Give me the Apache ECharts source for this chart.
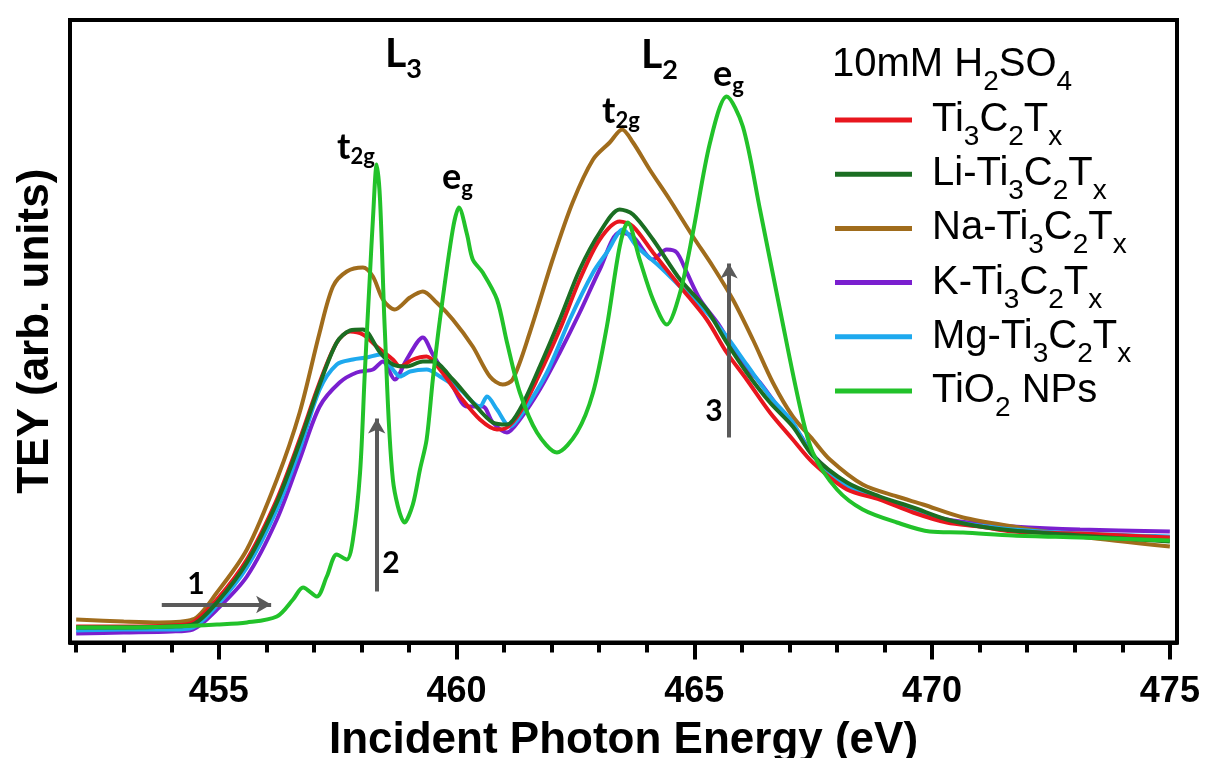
<!DOCTYPE html>
<html><head><meta charset="utf-8">
<script src="https://cdn.jsdelivr.net/npm/echarts@6/dist/echarts.min.js"></script>
<style>html,body{margin:0;padding:0;background:#fff}#c{width:1208px;height:758px}</style>
</head><body><div id="c"></div>
<script>
// ---- data: [photon energy (eV), TEY (arb. units)] ----
const ti3c2tx = [[452.0,16],[453.0,16],[454.0,17],[454.45,20],[454.96,43],[455.59,83],[456.22,143],[456.70,203],[457.12,260],[457.48,300],[457.76,311],[458.03,308],[458.32,296],[458.66,283],[458.81,276],[459.08,283],[459.37,286],[459.65,273],[460.07,246],[460.49,223],[460.85,213],[461.06,215],[461.33,230],[461.69,263],[462.17,313],[462.59,363],[463.01,403],[463.43,421],[463.71,416],[464.13,390],[464.70,356],[465.26,323],[465.68,290],[466.10,263],[466.59,230],[467.07,203],[467.49,180],[468.21,153],[468.90,143],[469.60,130],[470.31,120],[471.00,116],[471.70,111],[473.11,109],[475.0,105]];
const liTi3c2tx = [[452.0,15],[453.0,15],[454.0,16],[454.45,18],[454.96,40],[455.59,80],[456.22,140],[456.70,200],[457.12,258],[457.48,300],[457.76,312],[458.03,313],[458.39,290],[458.66,278],[458.95,276],[459.29,281],[459.50,281],[459.92,263],[460.34,240],[460.76,220],[461.06,218],[461.33,233],[461.75,276],[462.17,323],[462.59,373],[463.01,410],[463.43,433],[463.71,428],[464.13,403],[464.70,363],[465.26,333],[465.68,300],[466.10,270],[466.59,240],[467.07,216],[467.49,187],[468.21,160],[468.90,146],[469.60,135],[470.31,123],[471.00,116],[471.70,112],[473.11,107],[475.0,101]];
const naTi3c2tx = [[452.0,23],[453.0,21],[453.76,20],[454.45,23],[454.96,50],[455.59,93],[456.22,163],[456.70,230],[457.12,310],[457.40,356],[457.69,371],[458.03,375],[458.24,366],[458.45,343],[458.70,333],[459.02,345],[459.29,351],[459.58,340],[459.92,323],[460.34,296],[460.70,266],[460.97,258],[461.18,263],[461.54,310],[462.02,383],[462.44,440],[462.87,483],[463.22,500],[463.48,513],[463.71,500],[464.06,473],[464.48,443],[464.97,406],[465.39,376],[465.81,343],[466.23,303],[466.65,260],[467.07,226],[467.49,203],[467.85,183],[468.54,158],[469.26,146],[469.81,138],[470.65,125],[471.70,116],[473.11,106],[475.0,96]];
const kTi3c2tx = [[452.0,9],[453.0,10],[454.0,11],[454.45,13],[454.96,33],[455.59,66],[456.22,123],[456.70,183],[457.12,236],[457.54,260],[457.90,270],[458.24,273],[458.45,281],[458.70,263],[458.95,283],[459.29,305],[459.50,288],[459.92,256],[460.22,236],[460.55,236],[460.76,220],[461.06,210],[461.33,223],[461.75,253],[462.17,290],[462.59,330],[463.01,373],[463.43,410],[463.71,406],[464.13,383],[464.42,393],[464.63,390],[464.84,370],[465.12,343],[465.54,316],[465.96,283],[466.38,260],[466.80,233],[467.22,208],[467.49,188],[468.21,157],[468.90,145],[469.60,133],[470.31,123],[471.00,119],[471.70,116],[473.11,113],[475.0,111]];
const mgTi3c2tx = [[452.0,12],[453.0,13],[454.0,13],[454.45,15],[454.96,37],[455.59,75],[456.22,133],[456.70,193],[457.12,253],[457.48,278],[457.82,283],[458.11,285],[458.39,288],[458.66,273],[458.81,266],[459.02,271],[459.37,273],[459.65,266],[460.07,253],[460.49,236],[460.64,246],[460.85,233],[461.12,216],[461.39,230],[461.90,270],[462.38,323],[462.87,370],[463.16,390],[463.50,413],[463.79,396],[464.27,376],[464.70,356],[465.26,330],[465.68,306],[466.10,278],[466.59,246],[467.07,220],[467.49,187],[468.21,157],[468.90,144],[469.60,132],[470.31,122],[471.00,117],[471.70,113],[473.11,109],[475.0,106]];
const tio2Nps = [[452.0,15],[453.0,15],[454.0,16],[454.96,18],[455.59,20],[456.22,26],[456.56,43],[456.77,55],[457.06,46],[457.27,66],[457.48,88],[457.69,83],[457.82,103],[457.97,170],[458.07,270],[458.18,370],[458.24,423],[458.32,478],[458.39,443],[458.49,313],[458.66,163],[458.91,120],[459.08,138],[459.23,173],[459.37,203],[459.50,263],[459.65,323],[459.92,413],[460.05,435],[460.22,408],[460.34,383],[460.55,370],[460.85,343],[461.06,300],[461.33,250],[461.69,210],[462.11,190],[462.53,210],[462.87,250],[463.16,316],[463.43,396],[463.60,420],[463.85,383],[464.13,343],[464.42,318],[464.70,350],[464.97,410],[465.33,500],[465.68,546],[466.02,516],[466.38,433],[466.80,333],[467.22,236],[467.49,190],[468.00,153],[468.54,133],[469.26,120],[469.95,111],[470.65,110],[471.70,107],[473.11,105],[475.0,102]];

const seriesNames = ['Ti3C2Tx','Li-Ti3C2Tx','Na-Ti3C2Tx','K-Ti3C2Tx','Mg-Ti3C2Tx','TiO2 NPs'];
const legendLabels = ['{g| }{m|Ti}{s|3}{m|C}{s|2}{m|T}{s|x}','{g| }{m|Li-Ti}{s|3}{m|C}{s|2}{m|T}{s|x}','{g| }{m|Na-Ti}{s|3}{m|C}{s|2}{m|T}{s|x}','{g| }{m|K-Ti}{s|3}{m|C}{s|2}{m|T}{s|x}','{g| }{m|Mg-Ti}{s|3}{m|C}{s|2}{m|T}{s|x}','{g| }{m|TiO}{s|2}{m| NPs}'];
const majorTicks = [455,460,465,470,475];
const minorTicks = [452,453,454,455,456,457,458,459,460,461,462,463,464,465,466,467,468,469,470,471,472,473,474,475];
const arrowLines = [[[453.80,38],[456.10,38]],[[458.32,51],[458.32,224]],[[465.73,205],[465.73,379]]];

// ---- styling ----
const colors = ['#e8161e','#1b6e22','#a06c1c','#7a1fcf','#1ea9ee','#22c22a'];
const zOrder = [4,5,3,2,3,6];
const dataList = [ti3c2tx, liTi3c2tx, naTi3c2tx, kTi3c2tx, mgTi3c2tx, tio2Nps];

function richSub(font, weight, f, s, d, color){
  const P = 0.6*(f-s) + 2*d;
  return {
    g: {width: 15, fontSize: f, fontFamily: font},
    m: {fontFamily: font, fontWeight: weight, fontSize: f, lineHeight: f, verticalAlign: 'middle', color: color},
    s: {fontFamily: font, fontWeight: weight, fontSize: s, lineHeight: s, verticalAlign: 'top', padding: [P,0,0,0], color: color}
  };
}
const legendRich = richSub('Liberation Sans','normal',40,28,8,'#000');

const chart = echarts.init(document.getElementById('c'), null, {renderer:'canvas'});

const series = dataList.map((d,i)=>({
  name: seriesNames[i], type:'line', data:d, symbol:'none', showSymbol:false,
  smooth:0.3, lineStyle:{color:colors[i], width:4}, itemStyle:{color:colors[i]},
  z: zOrder[i], emphasis:{disabled:true}, xAxisIndex:0, yAxisIndex:0
}));
series.push({
  name:'arrows', type:'line', data:[], xAxisIndex:0, yAxisIndex:0, z:10, silent:true,
  markLine:{
    silent:true, symbol:['none','arrow'], symbolSize:[13,15], animation:false,
    label:{show:false}, emphasis:{disabled:true},
    lineStyle:{color:'#5a5a5a', width:4, type:'solid'},
    data: arrowLines.map(a=>[{coord:a[0]},{coord:a[1]}])
  }
});

function ann(text, x, baseline, f, s, d){
  return {type:'text', x:x, y:baseline-0.3*f, z:20, silent:true,
    style:{text:text, x:0, y:0, align:'left', verticalAlign:'middle', textAlign:'left', textVerticalAlign:'middle',
      rich: richSub('Lato','bold',f,s,d,'#000')}};
}
function num(text, cx, cy){
  return {type:'text', x:cx, y:cy, z:20, silent:true,
    style:{text:text, x:0, y:0, align:'center', verticalAlign:'middle', textAlign:'center', textVerticalAlign:'middle',
      fontFamily:'Lato', fontWeight:'bold', fontSize:30, fill:'#000', font:'bold 30px Lato'}};
}

const option = {
  animation:false,
  backgroundColor:'#fff',
  grid:{left:70, right:31, top:20, bottom:115.5, show:true, borderColor:'#000', borderWidth:4, backgroundColor:'transparent',
        containLabel:false, outerBoundsMode:'none'},
  legend:{
    data: seriesNames, orient:'vertical', left:835, top:100, padding:0, itemGap:3,
    icon:'rect', itemWidth:77, itemHeight:5, selectedMode:false,
    formatter: name => legendLabels[seriesNames.indexOf(name)],
    textStyle:{color:'#000', fontFamily:'Liberation Sans', fontSize:40, rich: legendRich}
  },
  xAxis:[{
    type:'value', min:451.87, max:475.15, position:'bottom', gridIndex:0,
    axisLine:{show:true, lineStyle:{color:'#000', width:4}},
    axisTick:{show:true, customValues:majorTicks, length:17, inside:false, lineStyle:{color:'#000', width:4}},
    axisLabel:{show:true, customValues:majorTicks, margin:32, color:'#000', fontFamily:'Liberation Sans', fontWeight:'bold', fontSize:36},
    splitLine:{show:false},
    name:'Incident Photon Energy (eV)', nameLocation:'middle', nameGap:76,
    nameTextStyle:{color:'#000', fontFamily:'Liberation Sans', fontWeight:'bold', fontSize:44}
  },{
    type:'value', min:451.87, max:475.15, position:'bottom', gridIndex:0,
    axisLine:{show:false},
    axisTick:{show:true, customValues:minorTicks, length:10, lineStyle:{color:'#000', width:4}},
    axisLabel:{show:false}, splitLine:{show:false}
  }],
  yAxis:{
    type:'value', min:0, max:622.5,
    axisLine:{show:true, lineStyle:{color:'#000', width:4}},
    axisTick:{show:false}, axisLabel:{show:false}, splitLine:{show:false},
    name:'TEY (arb. units)', nameLocation:'middle', nameGap:12,
    nameTextStyle:{color:'#000', fontFamily:'Liberation Sans', fontWeight:'bold', fontSize:44}
  },
  graphic:[
    {type:'text', x:832, y:65, z:20, silent:true,
      style:{text:'{m|10mM H}{s|2}{m|SO}{s|4}', x:0, y:0, align:'left', verticalAlign:'middle', textAlign:'left', textVerticalAlign:'middle',
        rich: richSub('Liberation Sans','normal',40,28,8,'#000')}},
    ann('{m|L}{s|3}', 385, 66, 41, 27, 7),
    ann('{m|L}{s|2}', 641, 67, 41, 27, 7),
    ann('{m|t}{s|2g}', 337, 158, 36, 22, 4),
    ann('{m|e}{s|g}', 442, 188, 36, 22, 5),
    ann('{m|t}{s|2g}', 602, 122, 36, 22, 4),
    ann('{m|e}{s|g}', 713, 85, 36, 22, 5),
    num('1', 196, 584),
    num('2', 391, 563),
    num('3', 714, 411)
  ],
  series: series
};
chart.setOption(option);
</script>
</body></html>
